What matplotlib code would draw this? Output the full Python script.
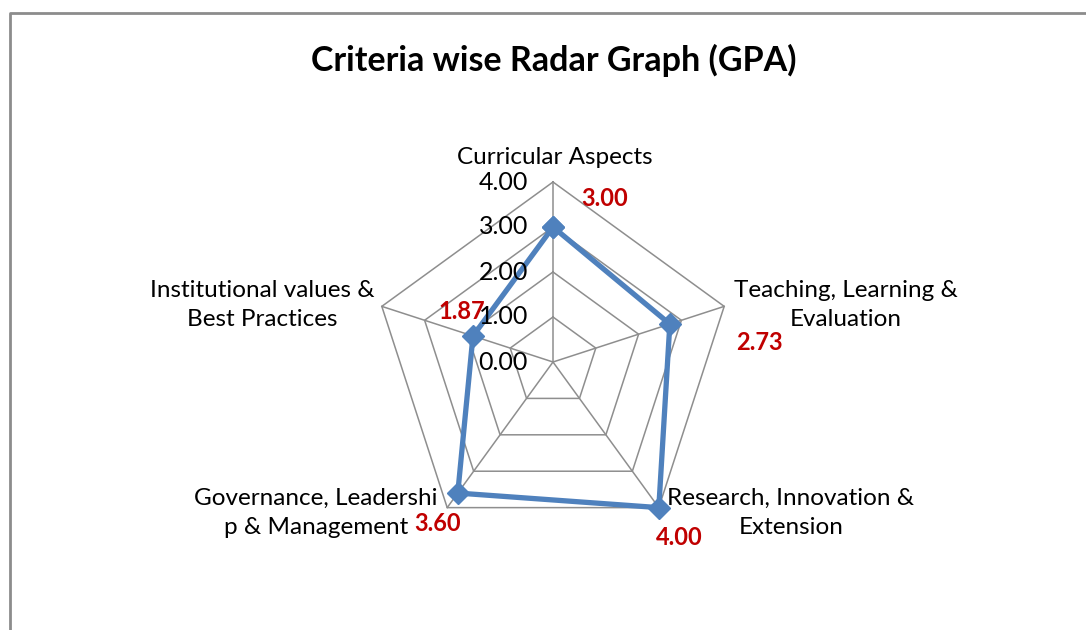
import numpy as np
import matplotlib.pyplot as plt

# criteria and GPA values
criteria = ["Curricular Aspects", "Teaching, Learning &\nEvaluation", "Research, Innovation &\nExtension",
            "Governance, Leadershi\np & Management", "Institutional values &\nBest Practices"]
gpa = [3.00, 2.73, 4.00, 3.60, 1.87]
ticks = [0.0, 1.0, 2.0, 3.0, 4.0]

plt.rcParams['font.family'] = ['Lato', 'DejaVu Sans']

fig = plt.figure(figsize=(10.86, 6.30), dpi=100)
ax = fig.add_axes([0, 0, 1, 1])
ax.set_xlim(0, 1086)
ax.set_ylim(630, 0)
ax.axis('off')

# frame of the chart area
ax.plot([10, 10, 1086], [630, 13, 13], color='#8c8c8c', lw=2)

cx, cy, scale = 553, 362, 45.0   # centre and pixels per GPA unit
n = len(criteria)
ang = np.arange(n) * 2 * np.pi / n

def xy(r, a):
    return cx + r * scale * np.sin(a), cy - r * scale * np.cos(a)

# pentagon grid
for t in ticks[1:]:
    gx, gy = xy(t, np.append(ang, ang[0]))
    ax.plot(gx, gy, color='#8e8e8e', lw=1.1)
for a in ang:
    sx, sy = xy(np.array([0, ticks[-1]]), a)
    ax.plot(sx, sy, color='#8e8e8e', lw=1.1)

# tick labels
for t in ticks:
    tx, ty = xy(t, 0)
    ax.text(tx - 25, ty, f"{t:.2f}", ha='right', va='center', fontsize=18)

# data
vals = np.array(gpa + gpa[:1])
px, py = xy(vals, np.append(ang, ang[0]))
ax.plot(px, py, color='#4F81BD', lw=3.8, marker='D', markersize=11.5, solid_joinstyle='miter')

# data labels
offs = [(52, 28), (90, -18), (21, -30), (-20, -30), (-11, 24)]
for v, a, o in zip(gpa, ang, offs):
    x0, y0 = xy(v, a)
    ax.annotate(f"{v:.2f}", (x0, y0), xytext=o, textcoords='offset pixels',
                ha='center', va='center', fontsize=17, fontweight='bold', color='#C00000')

# category labels
lab_pos = [(555, 157), (846, 305), (791, 513), (316, 513), (262, 305)]
for lab, (lx, ly) in zip(criteria, lab_pos):
    ax.text(lx, ly, lab, ha='center', va='center', fontsize=17.5, linespacing=1.45)

ax.text(554, 60, "Criteria wise Radar Graph (GPA)", ha='center', va='center',
        fontsize=24.5, fontweight='bold')

fig.savefig('out.png', dpi=100)
